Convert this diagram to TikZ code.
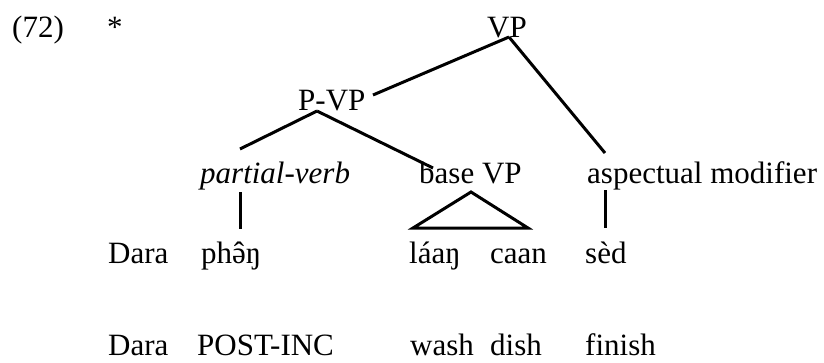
\documentclass[tikz,border=0pt]{standalone}
\usepackage{fontspec}
\setmainfont{Liberation Serif}
\newcommand{\schwacirc}{\ooalign{ə\cr\hidewidth\char"02C6\hidewidth\cr}}
\begin{document}
\begin{tikzpicture}[x=1pt,y=-1pt,
  lbl/.style={inner sep=0pt,anchor=base west,font=\fontsize{31pt}{36pt}\selectfont},
  br/.style={line width=3pt,line cap=butt}]
\useasboundingbox (0,0) rectangle (824,362);
% top row
\node[lbl] (num) at (12,37) {(72)};
\node[lbl] (star) at (107,37) {*};
\node[lbl] (vp) at (487,37) {VP};
\node[lbl] (pvp) at (298,110) {P-VP};
\node[lbl] (pv) at (200,183) {\itshape partial-verb};
\node[lbl] (bvp) at (419,183) {base VP};
\node[lbl] (asp) at (587,183) {aspectual modifier};
% word row
\node[lbl] (w1) at (108,263) {Dara};
\node[lbl] (w2) at (201,263) {ph\schwacirc ŋ};
\node[lbl] (w3) at (409,263) {láaŋ};
\node[lbl] (w4) at (490,263) {caan};
\node[lbl] (w5) at (585,263) {sèd};
% gloss row
\node[lbl] (g1) at (108,355) {Dara};
\node[lbl] (g2) at (197,355) {POST-INC};
\node[lbl] (g3) at (410,355) {wash};
\node[lbl] (g4) at (490,355) {dish};
\node[lbl] (g5) at (585,355) {finish};
% branch points
\coordinate (vpB) at (509,37);
\coordinate (pvpT) at (373,95);
\coordinate (aspT) at (605,153);
\coordinate (pvpB) at (317,111);
\coordinate (pvT) at (240,149);
\coordinate (bvpT) at (433,168);
\coordinate (pvB) at (240,192);
\coordinate (w2T) at (240,229);
\coordinate (triA) at (471,192);
\coordinate (triL) at (413,228);
\coordinate (triR) at (528,228);
\coordinate (aspB) at (605,190);
\coordinate (w5T) at (605,228);
% branches
\draw[br] (vpB) -- (pvpT);
\draw[br] (vpB) -- (aspT);
\draw[br] (pvpB) -- (pvT);
\draw[br] (pvpB) -- (bvpT);
\draw[br] (pvB) -- (w2T);
\draw[br,line join=miter] (triL) -- (triA) -- (triR) -- cycle;
\draw[br] (aspB) -- (w5T);
\end{tikzpicture}
\end{document}
